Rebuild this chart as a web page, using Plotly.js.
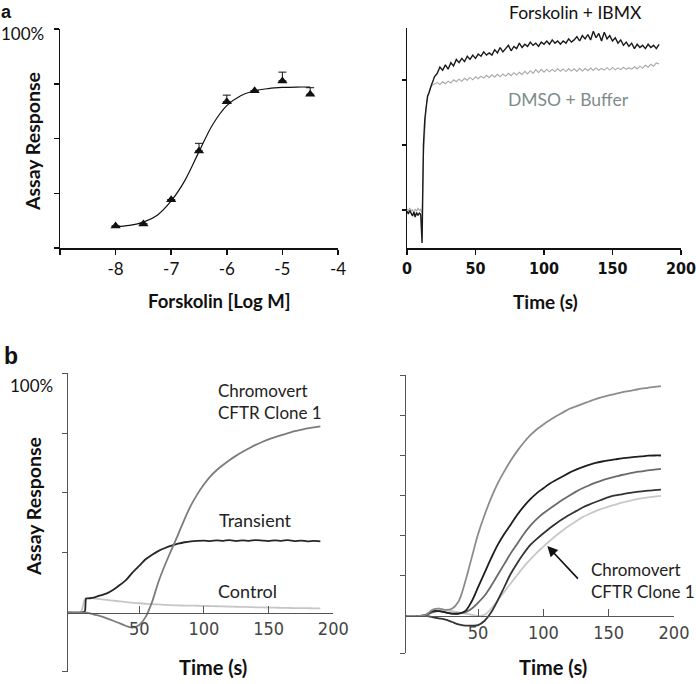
<!DOCTYPE html>
<html>
<head>
<meta charset="utf-8">
<script src="https://cdn.plot.ly/plotly-3.0.1.min.js"></script>
<style>
html,body{margin:0;padding:0;background:#fff;}
#chart{width:696px;height:684px;}
</style>
</head>
<body>
<div id="chart"></div>
<script>
// ---------- Panel a (left): dose response ----------
var logDose = [-8, -7.5, -7, -6.5, -6, -5.5, -5, -4.5];
var doseResp = [10, 11, 22, 44.3, 66.8, 71.8, 76.3, 70.2];
var doseErr = [0, 0, 0, 3.5, 3, 0, 4, 3];
var fitX = [-8, -7.75, -7.5, -7.25, -7, -6.75, -6.5, -6.25, -6, -5.75, -5.5, -5.25, -5, -4.75, -4.5];
var fitY = [9.7, 10.3, 11.8, 15, 21.5, 31, 44, 56.5, 65, 69.5, 71.8, 72.8, 73.3, 73.5, 73.5];
var doseTicks = [-9, -8, -7, -6, -5, -4];
var doseTickText = ['', '-8', '-7', '-6', '-5', '-4'];

// ---------- Panel a (right): kinetic traces ----------
var timeA = [0,1,2,3,4,5,6,7,8,9,10,11,12,13,14,15,16,17,18,19,20,
  22,24,26,28,30,32,34,36,38,40,42,44,46,48,50,52,54,56,58,60,62,64,66,68,70,72,74,76,78,80,
  82,84,86,88,90,92,94,96,98,100,102,104,106,108,110,112,114,116,118,120,122,124,126,128,130,
  132,134,136,138,140,142,144,146,148,150,152,154,156,158,160,162,164,166,168,170,172,174,176,178,180,182,184];
var forskIBMX = [19.5,18.2,19.8,18.5,17.3,19.1,16.8,18.9,17.5,18.6,18.0,4.8,50,62,69,72.5,74,76.5,78,79.5,81.5,
  83,86,84.5,87,85,88,86.5,89.5,88,90,88.5,91,89.5,91.5,90,92,91,93,91.5,92.5,91.5,94,92.5,95,93,94.5,96,93.5,95.5,94.5,
  97,95,96.5,95.5,97.5,96,97,95.5,97.5,96.5,98,96.5,98.5,97,98,96.5,98,97,99,97.5,98.5,100,98,100.5,99,
  101,98.5,102.5,99.5,101.5,98,102,99,100.5,98,99.5,97,98.5,96,97.5,95.5,97,94.5,96.5,95,96,94.5,96.5,95,96,94.5,96.5];
var dmsoBuffer = [20.5,19.8,21,19.5,20.2,18.8,20.5,19.6,20.8,19.9,20.3,18.5,45,60,68,72,75,76.5,77.5,77.8,78.2,
  78.8,77.9,79.2,78.3,79.5,78.6,80.1,79.2,80.4,79.4,80.8,79.9,81.2,80.1,81.5,80.6,81.8,80.9,82.2,81.1,82.4,81.3,82.6,81.5,82.8,81.8,83.1,82,83.4,82.3,
  83.6,82.5,84,82.8,84.3,83.1,84.8,83.4,84.9,83.6,85,83.8,84.9,83.9,85.2,84,85.1,83.9,85.3,84.1,85.2,84,85.4,84.2,85.3,
  84.3,85.5,84.4,85.6,84.5,85.4,84.6,85.7,84.6,85.8,84.7,85.6,84.8,85.9,84.9,85.7,85,86.1,85.1,86.4,85.5,86.8,85.9,87.3,86.4,87.9,87.4];
var timeATicks = [0, 50, 100, 150, 200];

// ---------- Panel b (left) ----------
var timeB1 = [-5,0,5,8,9,12,15,20,25,30,35,40,45,50,55,60,65,70,75,80,85,90,95,100,105,110,115,120,125,130,135,140,145,150,155,160,165,170,175,180,185,190];
var chromoClone1 = [0,0,0,0,0,-0.3,-0.8,-1.5,-2.4,-3.4,-4.5,-5.6,-6.3,-5.2,-1.8,4.5,13,20,26.3,32.5,39,44.8,49.5,53.5,56.9,59.6,61.8,63.8,65.6,67.2,68.7,70.1,71.3,72.4,73.3,74.2,75,75.8,76.4,77,77.4,77.8];
var transient = [0,0,0,0.5,5.8,6,6.3,7.2,8,9.5,11.5,13.7,16.8,19.5,22.3,24.2,25.8,27,28,28.8,29.4,29.8,30,30.1,29.9,30.2,30,30.3,29.9,30.2,30,30.3,30.1,29.9,30.2,30,30.3,29.9,30.1,29.8,30,29.8];
var control = [0.3,0,0.3,5.8,6.2,6.1,6.0,5.6,5.3,5.0,4.7,4.4,4.1,3.9,3.7,3.5,3.4,3.2,3.1,3.0,2.95,2.9,2.85,2.8,2.7,2.65,2.6,2.5,2.45,2.4,2.3,2.2,2.15,2.1,2.05,2.0,1.95,1.9,1.9,1.85,1.8,1.8];

// ---------- Panel b (right) ----------
var timeB2 = [-5,0,5,10,15,20,25,30,35,40,45,50,55,60,65,70,75,80,85,90,95,100,105,110,115,120,125,130,135,140,145,150,155,160,165,170,175,180,185,190];
var cloneA = [0,0,0,0.5,2.5,3,2.5,3,6,14,24,34,42,49,55,60,64.5,68.5,72,75,77.5,79.5,81.3,83,84.5,86,87,88,89,90,90.8,91.5,92.2,92.8,93.3,93.8,94.3,94.7,95.1,95.4];
var cloneB = [0,0,0,0.5,2,2,1.5,1,1,2,6,12,18,24,29.5,34,38,42,45.5,48.5,51,53,55,56.5,58,59.5,60.7,61.8,62.7,63.5,64.1,64.6,65,65.4,65.7,66,66.2,66.5,66.6,66.6];
var cloneC = [0,0,0,0.3,1.5,2,1.5,1,1,1.5,3,5.5,8.5,12.5,17,21.5,26,30,34,37.5,40.3,42.6,44.6,46.5,48.3,50,51.6,53,54.2,55.3,56.3,57.1,57.8,58.5,59.1,59.6,60,60.4,60.7,61];
var cloneD = [0,0,0,0,-0.5,-1,-1.5,-2.5,-3.5,-4,-4,-3.8,-2,1.5,6.5,12,17.5,22,26,29.5,32,34.3,36.5,38.5,40.3,42,43.5,45,46.2,47.3,48.3,49.3,50,50.5,51,51.4,51.7,52,52.2,52.4];
var cloneE = [0,0,0,0.5,2.5,3,2.5,2,1.5,1,0.5,0,0.5,3,6.5,10,13.6,17,20.5,23.5,26.3,28.8,31.2,33.5,35.6,37.5,39.3,41,42.3,43.5,44.5,45.4,46.2,47,47.7,48.3,48.8,49.2,49.5,49.8];
var timeBTicks = [50, 100, 150, 200];

// ---------- helpers ----------
var W = 696, H = 684;
function px(x){ return x / W; }
function py(y){ return 1 - y / H; }
var calib = 'Lato, "Open Sans", sans-serif';
var narrow = '"Liberation Sans Narrow", "DejaVu Sans Condensed", sans-serif';

var traces = [
  // a-left
  {x: fitX, y: fitY, xaxis:'x', yaxis:'y', mode:'lines', line:{color:'#111', width:1.2, shape:'spline'}, hoverinfo:'skip'},
  {x: logDose, y: doseResp, xaxis:'x', yaxis:'y', mode:'markers',
   marker:{symbol:'triangle-up', size:9, color:'#111'},
   error_y:{type:'data', symmetric:false, array: doseErr, arrayminus: doseErr.map(function(){return 0;}), color:'#111', thickness:1, width:4}},
  // a-right
  {x: timeA, y: dmsoBuffer, xaxis:'x2', yaxis:'y2', mode:'lines', line:{color:'#a8a8a8', width:1.1}},
  {x: timeA, y: forskIBMX, xaxis:'x2', yaxis:'y2', mode:'lines', line:{color:'#1a1a1a', width:1.4}},
  // b-left
  {x: timeB1, y: control, xaxis:'x3', yaxis:'y3', mode:'lines', line:{color:'#c6c6c6', width:1.8, shape:'spline', smoothing:0.6}},
  {x: timeB1, y: transient, xaxis:'x3', yaxis:'y3', mode:'lines', line:{color:'#262626', width:1.8, shape:'spline', smoothing:0.6}},
  {x: timeB1, y: chromoClone1, xaxis:'x3', yaxis:'y3', mode:'lines', line:{color:'#7c7c7c', width:1.8, shape:'spline', smoothing:0.8}},
  // b-right
  {x: timeB2, y: cloneE, xaxis:'x4', yaxis:'y4', mode:'lines', line:{color:'#c8c8c8', width:1.8, shape:'spline'}},
  {x: timeB2, y: cloneD, xaxis:'x4', yaxis:'y4', mode:'lines', line:{color:'#333333', width:1.8, shape:'spline'}},
  {x: timeB2, y: cloneC, xaxis:'x4', yaxis:'y4', mode:'lines', line:{color:'#6a6a6a', width:1.8, shape:'spline'}},
  {x: timeB2, y: cloneB, xaxis:'x4', yaxis:'y4', mode:'lines', line:{color:'#1e1e1e', width:1.8, shape:'spline'}},
  {x: timeB2, y: cloneA, xaxis:'x4', yaxis:'y4', mode:'lines', line:{color:'#8c8c8c', width:1.8, shape:'spline'}}
];

var baseAxis = {showgrid:false, zeroline:false, showline:true, fixedrange:true, ticklabeloverflow:'allow'};

function ann(text, x, y, opts){
  var a = {text:text, x:px(x), y:py(y), xref:'paper', yref:'paper', showarrow:false,
           xanchor:'center', yanchor:'middle', font:{family:calib, size:18, color:'#222'}};
  for (var k in opts){ a[k] = opts[k]; }
  return a;
}

var layout = {
  width: W, height: H,
  margin: {l:0, r:0, t:0, b:0},
  paper_bgcolor:'#fff', plot_bgcolor:'rgba(0,0,0,0)',
  showlegend:false,
  xaxis: Object.assign({}, baseAxis, {domain:[px(60), px(338)], range:[-9,-4], anchor:'y',
    linecolor:'#111', linewidth:1.5, ticks:'outside', ticklen:5, tickwidth:1.5, tickcolor:'#111',
    tickvals: doseTicks, ticktext: doseTickText, tickfont:{family:calib, size:17, color:'#111'}}),
  yaxis: Object.assign({}, baseAxis, {domain:[py(248), py(29)], range:[0,100], anchor:'x',
    linecolor:'#111', linewidth:1.5, ticks:'outside', ticklen:5, tickwidth:1.5, tickcolor:'#111',
    tickvals:[0,25,50,75,100], showticklabels:false}),
  xaxis2: Object.assign({}, baseAxis, {domain:[px(407), px(681)], range:[0,200], anchor:'y2',
    linecolor:'#111', linewidth:1.5, ticks:'outside', ticklen:5, tickwidth:1.5, tickcolor:'#111',
    tickvals: timeATicks, ticktext:['0','50','100','150','200'], tickfont:{family:narrow, size:16, color:'#111', weight:'bold'}}),
  yaxis2: Object.assign({}, baseAxis, {domain:[py(248), py(28)], range:[2.5,104], anchor:'x2',
    linecolor:'#111', linewidth:1.5, ticks:'outside', ticklen:4, tickwidth:1.5, tickcolor:'#111',
    tickvals:[20,50,80], showticklabels:false}),
  xaxis3: Object.assign({}, baseAxis, {domain:[px(68), px(333.3)], range:[-5,200], anchor:'free', position: py(612.7),
    linecolor:'#555', linewidth:1, ticks:'inside', ticklen:7, tickwidth:1, tickcolor:'#555',
    tickvals: timeBTicks, tickfont:{family:narrow, size:18, color:'#444'}}),
  yaxis3: Object.assign({}, baseAxis, {domain:[py(671.7), py(373.3)], range:[-24.7,100], anchor:'x3',
    linecolor:'#555', linewidth:1, ticks:'outside', ticklen:5, tickwidth:1, tickcolor:'#555',
    tickvals:[-24.7,25,50,75,100], showticklabels:false}),
  xaxis4: Object.assign({}, baseAxis, {domain:[px(406.3), px(674)], range:[-5,200], anchor:'free', position: py(616),
    linecolor:'#555', linewidth:1, ticks:'inside', ticklen:7, tickwidth:1, tickcolor:'#555',
    tickvals: timeBTicks, tickfont:{family:narrow, size:18, color:'#444'}}),
  yaxis4: Object.assign({}, baseAxis, {domain:[py(653.3), py(375)], range:[-15.5,100], anchor:'x4',
    linecolor:'#555', linewidth:1, ticks:'outside', ticklen:5, tickwidth:1, tickcolor:'#555',
    tickvals:[-15.5,16.67,33.33,50,66.67,83.33,100], showticklabels:false}),
  annotations: [
    ann('<b>a</b>', 6, 0, {yanchor:'top', font:{family:'"Liberation Sans", Arial, sans-serif', size:18, color:'#111'}}),
    ann('100%', 46, 34, {xanchor:'right', font:{family:calib, size:17, color:'#111'}}),
    ann('<b>b</b>', 11, 356, {font:{family:'"Liberation Sans", Arial, sans-serif', size:23, color:'#111'}}),
    ann('<b>Assay Response</b>', 32, 142, {textangle:-90, font:{family:calib, size:19.5, color:'#111'}}),
    ann('<b>Forskolin [Log M]</b>', 219, 301, {font:{family:calib, size:18.5, color:'#111'}}),
    ann('<b>Time (s)</b>', 545, 301, {font:{family:calib, size:19, color:'#111'}}),
    ann('Forskolin + IBMX', 575, 0, {yanchor:'top', font:{family:calib, size:17.5, color:'#111'}}),
    ann('DMSO + Buffer', 568, 100, {font:{family:calib, size:17.5, color:'#7d8b8b'}}),
    ann('<b>Assay Response</b>', 33, 507, {textangle:-90, font:{family:calib, size:19.5, color:'#111'}}),
    ann('100%', 55, 385, {xanchor:'right', font:{family:calib, size:17, color:'#111'}}),
    ann('Chromovert<br>CFTR Clone 1', 216, 401, {xanchor:'left', align:'left', font:{family:calib, size:17, color:'#222'}}),
    ann('Transient', 217, 520, {xanchor:'left'}),
    ann('Control', 216, 591, {xanchor:'left'}),
    ann('<b>Time (s)</b>', 213, 667, {font:{family:calib, size:20, color:'#111'}}),
    ann('<b>Time (s)</b>', 553, 667, {font:{family:calib, size:20, color:'#111'}}),
    ann('Chromovert<br>CFTR Clone 1', 589, 580, {xanchor:'left', align:'left', font:{family:calib, size:17, color:'#222'}}),
    {text:'', x:103, y:29, xref:'x4', yref:'y4', showarrow:true, ax:32, ay:34, axref:'pixel', ayref:'pixel',
     arrowhead:2, arrowsize:1.3, arrowwidth:1.6, arrowcolor:'#111', standoff:0}
  ]
};

Plotly.newPlot('chart', traces, layout, {displayModeBar:false, staticPlot:true});
</script>
</body>
</html>
